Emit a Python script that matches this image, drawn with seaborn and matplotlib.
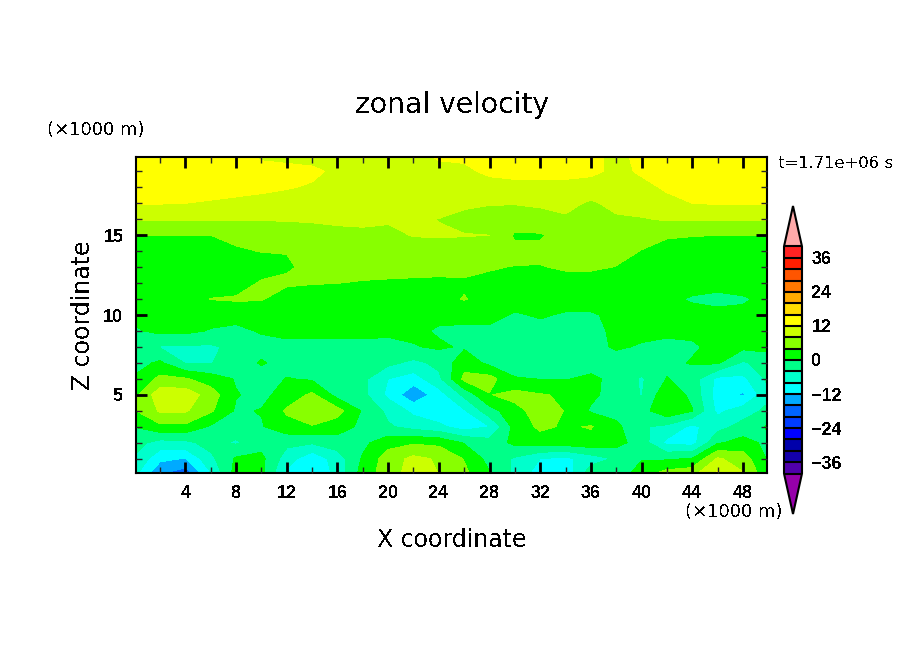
import numpy as np
import matplotlib
matplotlib.use('Agg')
import matplotlib.pyplot as plt
from matplotlib.colors import BoundaryNorm, ListedColormap
import seaborn as sns

# grid (km)
x_km = [0, 2, 4, 6, 8, 10, 12, 14, 16, 18, 20, 22, 24, 26, 28, 30, 32, 34, 36, 38, 40, 42, 44, 46, 48, 50]
z_km = list(range(21))

# zonal velocity per height, bottom to top
u_z00 = [-7, -16, -19, -8.5, 2, 1, -9, -11, -7, 2, 6, 10, 8, 5, 0.5, -5, -10.5, -11, -1, -3, 3, 6, 7, 13, 8.5, 1]
u_z01 = [-4.5, -11, -12.2, -5, 0.5, 1, -6, -11, -6, 0.5, 6, 9, 7.5, 3.8, -1.5, -4.5, -8, -9, -6, -3.5, -0.5, -0.5, 0.2, 8.5, 6, -0.5]
u_z02 = [-2.5, -5.5, -5, -2.5, -4.5, -1.5, -3, -3.5, -2, -1, 2.5, 3.5, 3, -0.3, -2.5, 1, 2, 2, 2.5, 1.5, -2, -9, -9.5, -0.5, 1.5, -1]
u_z03 = [0.1, 3, 3, -0.5, -2, -0.3, 2.5, 3.7, 2, -1, -3.5, -5.5, -7, -10, -8, 1.5, 4.8, 3.5, 4.3, 1, -3.5, -5, -9, -5.5, -2.5, 0.5]
u_z04 = [3.8, 8.5, 8.5, 4.6, -0.5, 0.2, 4.6, 7, 5.5, -0.5, -5, -9, -11, -8.5, -1.5, 2.5, 6, 3.8, -0.5, -1.5, -1.5, 3, 0.2, -9, -6, -3]
u_z05 = [3, 10.5, 10.5, 6, 0.2, -1, 1.5, 4.8, -1.5, -3, -9, -15, -10, -3, 3.8, 5.5, 4.3, 3.5, 0.8, -1.5, -4.2, 3, -1, -10, -12.5, -5]
u_z06 = [0.5, 5, 4.4, 2, -0.3, -2, 0.2, -0.5, -2, -3, -8, -10, -5, 5, 5.5, 0.3, -0.1, -0.2, 0.7, -1, -4.5, 0.2, -2, -9, -9, -3]
u_z07 = [-1.5, 0.7, -4.2, -4.2, -2, 0.4, -1.5, -1.5, -1.5, -2, -3, -5, -3, 2.5, -1, -2, -2, -1.5, -1.5, -1.5, -1.5, -1, 0.3, 0.5, -4.5, -2]
u_z08 = [-2, -4.3, -4.5, -4.6, -3, -1.5, -1, -1, -1, -1, -1.5, -0.3, 0.6, -0.5, -1, -1, -1, -1, -1, 0.4, -0.3, -1, -0.5, 1, 1, 1]
u_z09 = [-0.5, 1, 1, -0.3, -1, 0.4, 1, 1, 1, 1, 1, 1, -0.5, -1, -1, -1, -1.5, -1.5, -1, 0.7, 0.8, 0.8, 0.8, 1, 1, 1]
u_z10 = [1, 1, 1.5, 1.5, 1.5, 1.5, 1.5, 1.5, 1.5, 1.5, 1.5, 1, 1, 1.5, 1.5, -0.5, 0.5, -0.5, -0.5, 1, 1.5, 1.5, 1.5, 1.5, 1, 0.5]
u_z11 = [1.5, 1.5, 2, 4.1, 4.4, 4.3, 2, 2, 1.5, 1.5, 1.5, 2, 2.8, 4.2, 2.5, 2, 2, 2, 2, 1.5, 1.5, 1, -0.5, -1.5, -0.5, 1]
u_z12 = [2, 2, 2, 2, 2.4, 4.4, 4.6, 4.2, 4.05, 3.6, 3.3, 3, 3, 3.5, 3.4, 3, 2.6, 2.5, 2.5, 2.5, 2, 2, 2, 2, 2, 2]
u_z13 = [2, 2, 2, 2, 2, 2.5, 3.6, 4.8, 6, 6, 6, 6, 5.5, 5, 4.2, 3.9, 3.8, 4.5, 4.5, 3.9, 3, 2, 2, 2, 2, 2]
u_z14 = [3, 3, 3, 3, 3.6, 4.1, 4.1, 4.6, 5.5, 6, 6, 6, 6, 6, 6, 5, 5, 6, 6, 5, 3.9, 3, 3, 3, 3, 3]
u_z15 = [4, 4, 4, 4, 4.8, 5.8, 6, 6.2, 6.5, 6.5, 7, 8.2, 8.4, 8.2, 8, 3.5, 3.5, 6, 6, 5.8, 5, 4.3, 4.1, 4, 4, 4]
u_z16 = [8.2, 8.2, 8.2, 8.2, 8.2, 8.2, 8.3, 8.5, 9, 9.5, 8.5, 8.8, 7.9, 6.5, 6, 6, 7.5, 7.5, 7.5, 7.5, 7.7, 8.4, 8.4, 8.4, 8.4, 8.4]
u_z17 = [12.3, 12.2, 12, 11.5, 11, 10.5, 10, 10, 10, 10, 10, 10, 10, 9, 8.3, 8.2, 8.2, 9, 7.5, 9, 10, 11, 12, 12.3, 12.3, 12.3]
u_z18 = [15, 15, 14, 14, 13.5, 13, 12.3, 11.5, 10, 10, 10, 10, 10, 10, 10, 10, 10, 10, 10, 10, 11, 12.5, 14, 15, 15, 15]
u_z19 = [15, 15, 15, 15, 15, 14, 14, 13, 11, 10, 10, 10, 10, 11, 13, 14, 14, 14, 13, 11, 12.5, 13, 14, 15, 15, 15]
u_z20 = [14, 14, 14, 14, 14, 11, 10, 10, 10, 10, 10, 10, 13, 13, 14, 14, 14, 14, 13, 11, 13, 14, 14, 14, 14, 14]

u_rows = [u_z00, u_z01, u_z02, u_z03, u_z04, u_z05, u_z06, u_z07, u_z08, u_z09, u_z10,
          u_z11, u_z12, u_z13, u_z14, u_z15, u_z16, u_z17, u_z18, u_z19, u_z20]

# contour bands, -40 to 40 in steps of 4
levels = list(range(-40, 41, 4))
band_colors = ['#5000aa', '#1400aa', '#0000aa', '#0000ff', '#003cff', '#0064ff', '#00aaff',
               '#00ffff', '#00ffcc', '#00ff88', '#00ff00', '#88ff00', '#ccff00', '#ffff00',
               '#ffdc00', '#ffaa00', '#ff7800', '#ff5500', '#ff1e00', '#ff2323']
under_color = '#9600aa'
over_color = '#ffaaaa'
cbar_ticks = [-36, -24, -12, 0, 12, 24, 36]

sns.set_theme(style='ticks')
plt.rcParams['font.family'] = ['DejaVu Sans']
plt.rcParams['text.antialiased'] = False
plt.rcParams['axes.unicode_minus'] = True

W, H = 904, 654
fig = plt.figure(figsize=(W / 100, H / 100), dpi=100, facecolor='white')
ax = fig.add_axes([136 / W, 1 - 473 / H, (767 - 136) / W, (473 - 157) / H])

cmap = ListedColormap(sns.color_palette(band_colors))
cmap.set_under(under_color)
cmap.set_over(over_color)
norm = BoundaryNorm(levels, cmap.N)

cf = ax.contourf(x_km, z_km, np.array(u_rows), levels=levels, cmap=cmap, norm=norm,
                 extend='both', antialiased=False)
ax.set_xlim(0.1, 49.9)
ax.set_ylim(0.1, 19.9)
ax.set_axisbelow(False)

ax.set_xticks(range(4, 49, 4))
ax.set_xticks(range(2, 50, 4), minor=True)
ax.set_yticks([5, 10, 15])
ax.set_yticks([z for z in range(1, 20) if z % 5], minor=True)
ax.tick_params(which='major', direction='in', length=8, width=2, top=True, right=True,
               labelsize=13, colors='black', pad=9)
ax.tick_params(which='minor', direction='in', length=4, width=1, top=True, right=True)
for lab in ax.get_xticklabels() + ax.get_yticklabels():
    lab.set_family('Liberation Sans')
    lab.set_weight('bold')
for sp in ax.spines.values():
    sp.set_linewidth(1.5)
    sp.set_color('black')

fig.text(452 / W, 1 - 105 / H, 'zonal velocity', fontsize=20.3, ha='center', va='center', color='black')
fig.text(452 / W, 1 - 540 / H, 'X coordinate', fontsize=17, ha='center', va='center', color='black')
fig.text(83 / W, 1 - 315 / H, 'Z coordinate', fontsize=17, rotation=90, ha='center', va='center', color='black')
fig.text(47 / W, 1 - 130 / H, '(×1000 m)', fontsize=13, ha='left', va='center', color='black')
fig.text(685 / W, 1 - 512 / H, '(×1000 m)', fontsize=13, ha='left', va='center', color='black')
fig.text(778 / W, 1 - 164 / H, 't=1.71e+06 s', fontsize=11.8, ha='left', va='center', color='black')

# colorbar with pointed ends, the axes spans tip to tip
cax = fig.add_axes([784 / W, 1 - 514 / H, 18 / W, (514 - 206) / H])
cbar = fig.colorbar(cf, cax=cax, ticks=cbar_ticks, extend='both', extendfrac=40.5 / 227,
                    drawedges=True, spacing='proportional')
cbar.dividers.set_color('black')
cbar.dividers.set_linewidth(1.5)
cbar.outline.set_linewidth(1.5)
cbar.outline.set_edgecolor('black')
cbar.ax.tick_params(length=0, labelsize=13, pad=7, colors='black')
cbar.ax.minorticks_off()
for lab in cbar.ax.get_yticklabels():
    lab.set_family('Liberation Sans')
    lab.set_weight('bold')

fig.savefig('out.png', dpi=100)
